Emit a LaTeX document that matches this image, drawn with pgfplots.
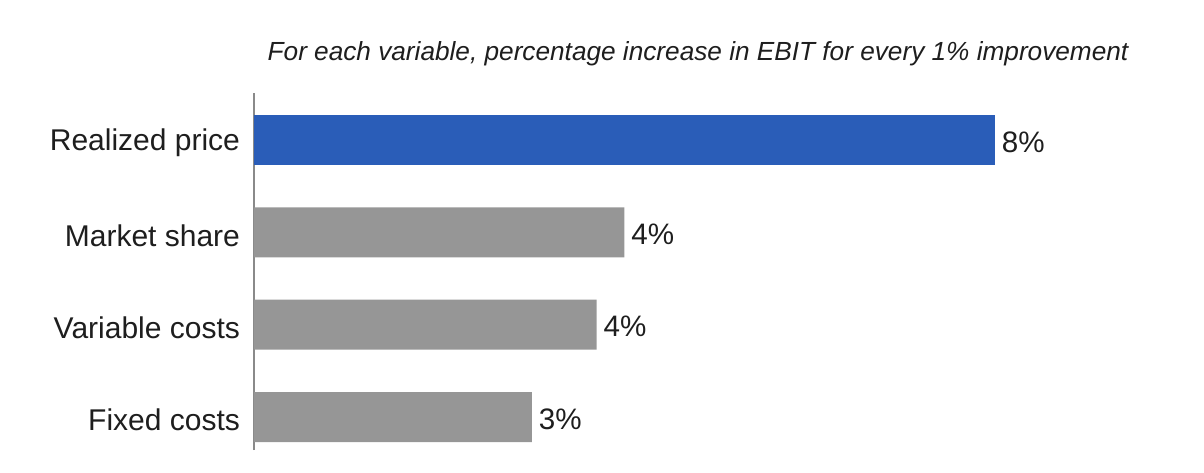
\documentclass[border=0pt]{standalone}
\usepackage{pgfplots}
\pgfplotsset{compat=1.18}
\usepackage{fontspec}
\setmainfont{Liberation Sans}
\definecolor{barblue}{HTML}{2A5DB8}
\definecolor{bargray}{HTML}{969696}
\definecolor{axgray}{HTML}{8A8A8A}
\definecolor{txt}{HTML}{1E1E1E}
\begin{document}
\begin{tikzpicture}
\useasboundingbox (0,0) rectangle (602pt,236pt);
\node[font=\fontsize{13.1}{15}\selectfont\itshape, text=txt] at (349pt,209pt) {For each variable, percentage increase in EBIT for every 1\% improvement};
\begin{axis}[
  at={(127pt,11pt)}, anchor=south west,
  scale only axis,
  width=463pt, height=178.5pt,
  xmin=0, xmax=10,
  ymin=-0.357, ymax=3.509,
  xbar, bar width=25pt,
  axis x line=none,
  axis y line*=left,
  y axis line style={draw=axgray, line width=0.8pt, -},
  ytick={0,1,2,3},
  yticklabels={Fixed costs, Variable costs, Market share, Realized price},
  major tick length=0pt,
  yticklabel style={font=\fontsize{15}{17}\selectfont, text=txt, xshift=-3.5pt, yshift=-1.5pt},
  nodes near coords={\pgfmathprintnumber[fixed,precision=0]{\pgfplotspointmeta}\%},
  nodes near coords align={horizontal},
  every node near coord/.append style={font=\fontsize{14.8}{17}\selectfont, text=txt, anchor=west, xshift=0pt, yshift=-1pt},
  /pgf/number format/assume math mode=true,
  clip=false,
]
\addplot[fill=bargray, draw=none, bar shift=0pt] coordinates {(3.0,0) (3.7,1) (4.0,2)};
\addplot[fill=barblue, draw=none, bar shift=0pt] coordinates {(8.0,3)};
\end{axis}
\end{tikzpicture}
\end{document}
